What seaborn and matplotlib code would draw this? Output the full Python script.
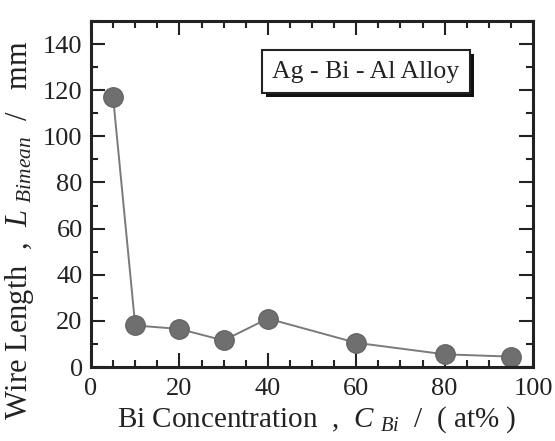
import matplotlib
matplotlib.use("Agg")
import matplotlib.pyplot as plt
import seaborn as sns
import pandas as pd
from matplotlib.ticker import MultipleLocator
import matplotlib.patheffects as pe

bi_conc = [5, 10, 20, 30, 40, 60, 80, 95]
wire_length = [117, 18, 16.5, 11.5, 21, 10.5, 5.5, 4.5]
x_ticks = [0, 20, 40, 60, 80, 100]
y_ticks = [0, 20, 40, 60, 80, 100, 120, 140]
legend_text = "Ag - Bi - Al Alloy"

sns.set_style("ticks")
plt.rcParams['font.family'] = ['Liberation Serif', 'DejaVu Serif']
plt.rcParams['mathtext.fontset'] = 'custom'
plt.rcParams['mathtext.it'] = 'Liberation Serif:italic'
plt.rcParams['mathtext.rm'] = 'Liberation Serif'

df = pd.DataFrame({"x": bi_conc, "y": wire_length})

fig = plt.figure(figsize=(5.55, 4.41), dpi=100)
ax = fig.add_axes([91/555, (441-367)/441, 442/555, 346/441])

sns.lineplot(data=df, x="x", y="y", ax=ax, color="#7a7a7a", linewidth=1.4,
             marker="o", markersize=14, markerfacecolor="#6f6f6f",
             markeredgecolor="#666666", markeredgewidth=1)

ax.set_xlim(0, 100)
ax.set_ylim(0, 150)
ax.set_xticks(x_ticks)
ax.set_yticks(y_ticks)
ax.xaxis.set_minor_locator(MultipleLocator(5))
ax.yaxis.set_minor_locator(MultipleLocator(10))
ax.tick_params(which='both', direction='in', top=True, right=True, width=1.5, color='#222222')
ax.tick_params(which='major', length=10, labelsize=19, pad=6, labelcolor='#222222')
ax.tick_params(which='minor', length=5)
ax.tick_params(axis='x', which='major', pad=8)
for s in ax.spines.values():
    s.set_linewidth(2.2)
    s.set_color('#222222')

ax.set_xlabel("Bi Concentration  ,  $C$ $_{Bi}$  /  ( at% )", fontsize=21, color='#222222')
ax.set_ylabel("Wire Length  ,  $L$ $_{Bimean}$  /   mm", fontsize=22, color='#222222')
ax.yaxis.set_label_coords(-0.125, 0.395)
ax.xaxis.set_label_coords(0.51, -0.107)

ax.text(0.622, 0.854, legend_text, transform=ax.transAxes, fontsize=18.5,
        ha='center', va='center', color='#222222',
        bbox=dict(boxstyle='square,pad=0.4', facecolor='white', edgecolor='#222222', linewidth=1.5,
                  path_effects=[pe.SimplePatchShadow(offset=(3, -3), shadow_rgbFace='#111111', alpha=1), pe.Normal()]))

fig.savefig("out.png", dpi=100)
